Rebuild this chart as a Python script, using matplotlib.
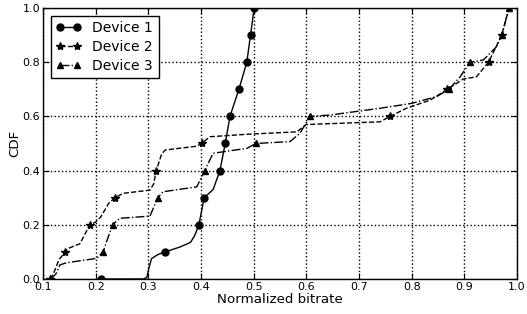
import numpy as np
import matplotlib
matplotlib.use('Agg')
from matplotlib import pyplot as plt

# CDF curves (markers sit on the deciles)
dev1_x = [0.21, 0.29, 0.297, 0.301, 0.306, 0.318, 0.332, 0.36, 0.38, 0.388, 0.396,
          0.406, 0.423, 0.436, 0.446, 0.455, 0.472, 0.487, 0.494, 0.501]
dev1_y = [0.0, 0.0, 0.005, 0.04, 0.075, 0.09, 0.1, 0.118, 0.135, 0.16, 0.2,
          0.3, 0.33, 0.4, 0.5, 0.6, 0.7, 0.8, 0.9, 1.0]

dev2_x = [0.113, 0.12, 0.13, 0.142, 0.148, 0.17, 0.189, 0.2, 0.21, 0.225, 0.237,
          0.252, 0.303, 0.31, 0.315, 0.325, 0.332, 0.392, 0.401, 0.417, 0.487,
          0.582, 0.6, 0.74, 0.759, 0.79, 0.835, 0.868, 0.898, 0.923, 0.946,
          0.971, 0.985]
dev2_y = [0.0, 0.02, 0.07, 0.1, 0.113, 0.13, 0.2, 0.21, 0.23, 0.28, 0.3,
          0.316, 0.328, 0.35, 0.4, 0.46, 0.476, 0.49, 0.5, 0.525, 0.534,
          0.543, 0.57, 0.58, 0.6, 0.63, 0.66, 0.7, 0.738, 0.746, 0.8,
          0.9, 1.0]

dev3_x = [0.115, 0.125, 0.132, 0.145, 0.202, 0.214, 0.232, 0.246, 0.303, 0.318,
          0.328, 0.392, 0.407, 0.423, 0.487, 0.504, 0.569, 0.588, 0.607, 0.645,
          0.74, 0.8, 0.847, 0.871, 0.892, 0.911, 0.936, 0.961, 0.971, 0.985]
dev3_y = [0.0, 0.02, 0.052, 0.06, 0.076, 0.1, 0.2, 0.224, 0.232, 0.3,
          0.322, 0.34, 0.4, 0.464, 0.482, 0.5, 0.507, 0.538, 0.6, 0.605,
          0.63, 0.648, 0.673, 0.7, 0.746, 0.8, 0.808, 0.857, 0.9, 1.0]

labels = ['Device 1', 'Device 2', 'Device 3']
styles = [('-', 'o', 5), ('--', '*', 6), ('-.', '^', 5)]


def decile_idx(y):
    return [i for i, v in enumerate(y) if abs(v * 10 - round(v * 10)) < 1e-9
            and (i == 0 or abs(y[i - 1] - v) > 1e-9)]


fig = plt.figure(figsize=(5.27, 3.14), dpi=100)
ax = fig.add_axes([0.0816, 0.1115, 0.8994, 0.863])

for (xs, ys), lab, (ls, mk, ms) in zip([(dev1_x, dev1_y), (dev2_x, dev2_y), (dev3_x, dev3_y)],
                                     labels, styles):
    ax.plot(xs, ys, color='k', linestyle=ls, marker=mk, markersize=ms,
            markevery=decile_idx(ys), lw=1, label=lab)

ax.set_xlim(0.1, 1.0)
ax.set_ylim(0, 1.0)
ax.set_xticks(np.arange(0.1, 1.01, 0.1))
ax.set_yticks(np.arange(0, 1.01, 0.2))
ax.grid(True, color='k', linestyle=':', lw=1)
ax.tick_params(direction='in', top=True, right=True, labelsize=8, length=4, pad=2)
for s in ax.spines.values():
    s.set_linewidth(1)
ax.set_xlabel('Normalized bitrate', fontsize=9.6, labelpad=1)
ax.set_ylabel('CDF', fontsize=9.6, labelpad=1)

leg = ax.legend(loc='upper left', numpoints=2, fontsize=10, fancybox=False,
                framealpha=1, borderaxespad=0.55, handlelength=1.8,
                labelspacing=0.35)
leg.get_frame().set_edgecolor('k')

fig.savefig('out.png', dpi=100)
